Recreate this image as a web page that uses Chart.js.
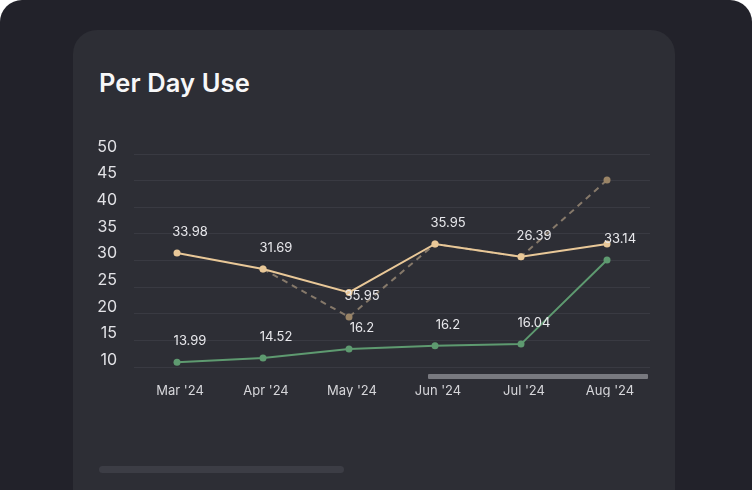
<!DOCTYPE html>
<html>
<head>
<meta charset="utf-8">
<script src="https://cdn.jsdelivr.net/npm/chart.js@4"></script>
<style>
  html,body{margin:0;padding:0;background:#ffffff;width:752px;height:490px;overflow:hidden;font-family:Inter,"Noto Sans",sans-serif;}
  #outer{position:absolute;left:0;top:0;width:752px;height:490px;background:#22222a;border-radius:22px 22px 0 0;}
  #card{position:absolute;left:73px;top:30px;width:602px;height:460px;background:#2d2e35;border-radius:24px 24px 0 0;}
  #title{position:absolute;left:99px;top:67px;color:#f7f7f8;font:600 25.5px Inter,sans-serif;letter-spacing:0.1px;}
  #bar1{position:absolute;left:428px;top:374px;width:220px;height:5px;background:#78797f;border-radius:1px;}
  #bar2{position:absolute;left:99px;top:466px;width:245px;height:7px;background:#3c3d45;border-radius:4px;}
  #wrap{position:absolute;left:0;top:0;width:752px;height:490px;}
</style>
</head>
<body>
<div id="outer"></div>
<div id="card"></div>
<div id="title">Per Day Use</div>
<div id="bar1"></div>
<div id="bar2"></div>
<div id="wrap"><canvas id="c" width="752" height="490"></canvas></div>
<script>
const categories = ["Mar '24", "Apr '24", "May '24", "Jun '24", "Jul '24", "Aug '24"];
const yTicks = [10, 15, 20, 25, 30, 35, 40, 45, 50];
const tanValues = [31.4, 28.4, 24.0, 33.1, 30.7, 33.1];
const dashedValues = [null, 28.4, 19.4, 33.1, 30.7, 45.1];
const greenValues = [10.9, 11.7, 13.4, 14.0, 14.3, 30.1];
const tanLabels = ["33.98", "31.69", null, "35.95", "26.39", null];
const dashedLabels = [null, null, "35.95", null, null, null];
const greenLabels = ["13.99", "14.52", "16.2", "16.2", "16.04", "33.14"];

const pointLabels = {
  id: 'pointLabels',
  afterDatasetsDraw(chart) {
    const ctx = chart.ctx;
    ctx.save();
    ctx.font = '400 13px Inter, sans-serif';
    ctx.fillStyle = '#e8e8ec';
    ctx.textAlign = 'center';
    ctx.textBaseline = 'middle';
    chart.data.datasets.forEach((ds, i) => {
      const meta = chart.getDatasetMeta(i);
      const labels = ds.valueLabels || [];
      meta.data.forEach((pt, j) => {
        if (labels[j] == null) return;
        ctx.fillText(labels[j], pt.x + 13, pt.y - 21);
      });
    });
    ctx.restore();
  }
};

new Chart(document.getElementById('c'), {
  type: 'line',
  data: {
    labels: categories,
    datasets: [
      {
        data: tanValues, valueLabels: tanLabels,
        borderColor: '#e9c898', backgroundColor: '#e9c898',
        borderWidth: 2, pointRadius: 3.5, pointBorderWidth: 0,
        pointBackgroundColor: '#e9c898', tension: 0
      },
      {
        data: greenValues, valueLabels: greenLabels,
        borderColor: '#5e9a70', backgroundColor: '#5e9a70',
        borderWidth: 2, pointRadius: 3.5, pointBorderWidth: 0,
        pointBackgroundColor: '#5e9a70', tension: 0
      },
      {
        data: dashedValues, valueLabels: dashedLabels,
        borderColor: '#86796a', backgroundColor: '#9a8466',
        borderWidth: 2, borderDash: [6, 5], pointRadius: 3.5, pointBorderWidth: 0,
        pointBackgroundColor: '#9a8466', tension: 0, spanGaps: false
      }
    ]
  },
  options: {
    responsive: false,
    animation: false,
    devicePixelRatio: 1,
    layout: { padding: { left: 80, right: 102, top: 154, bottom: 93 } },
    plugins: { legend: { display: false }, tooltip: { enabled: false }, title: { display: false } },
    scales: {
      x: {
        offset: true,
        grid: { display: false, drawTicks: false },
        border: { display: false },
        ticks: { color: '#d6d6da', font: { family: 'Inter', size: 13 }, padding: 16, labelOffset: 3, maxRotation: 0 },
        afterFit(s) { s.height = 30; }
      },
      y: {
        min: 10, max: 50,
        afterBuildTicks(s) { s.ticks = yTicks.map(v => ({ value: v })); },
        grid: { color: '#393a42', lineWidth: 1, drawTicks: false },
        border: { display: false },
        ticks: { color: '#e2e2e6', font: { family: 'Inter', size: 16 }, padding: 17, labelOffset: -7 },
        afterFit(s) { s.width = 54; }
      }
    }
  },
  plugins: [pointLabels]
});
</script>
</body>
</html>
